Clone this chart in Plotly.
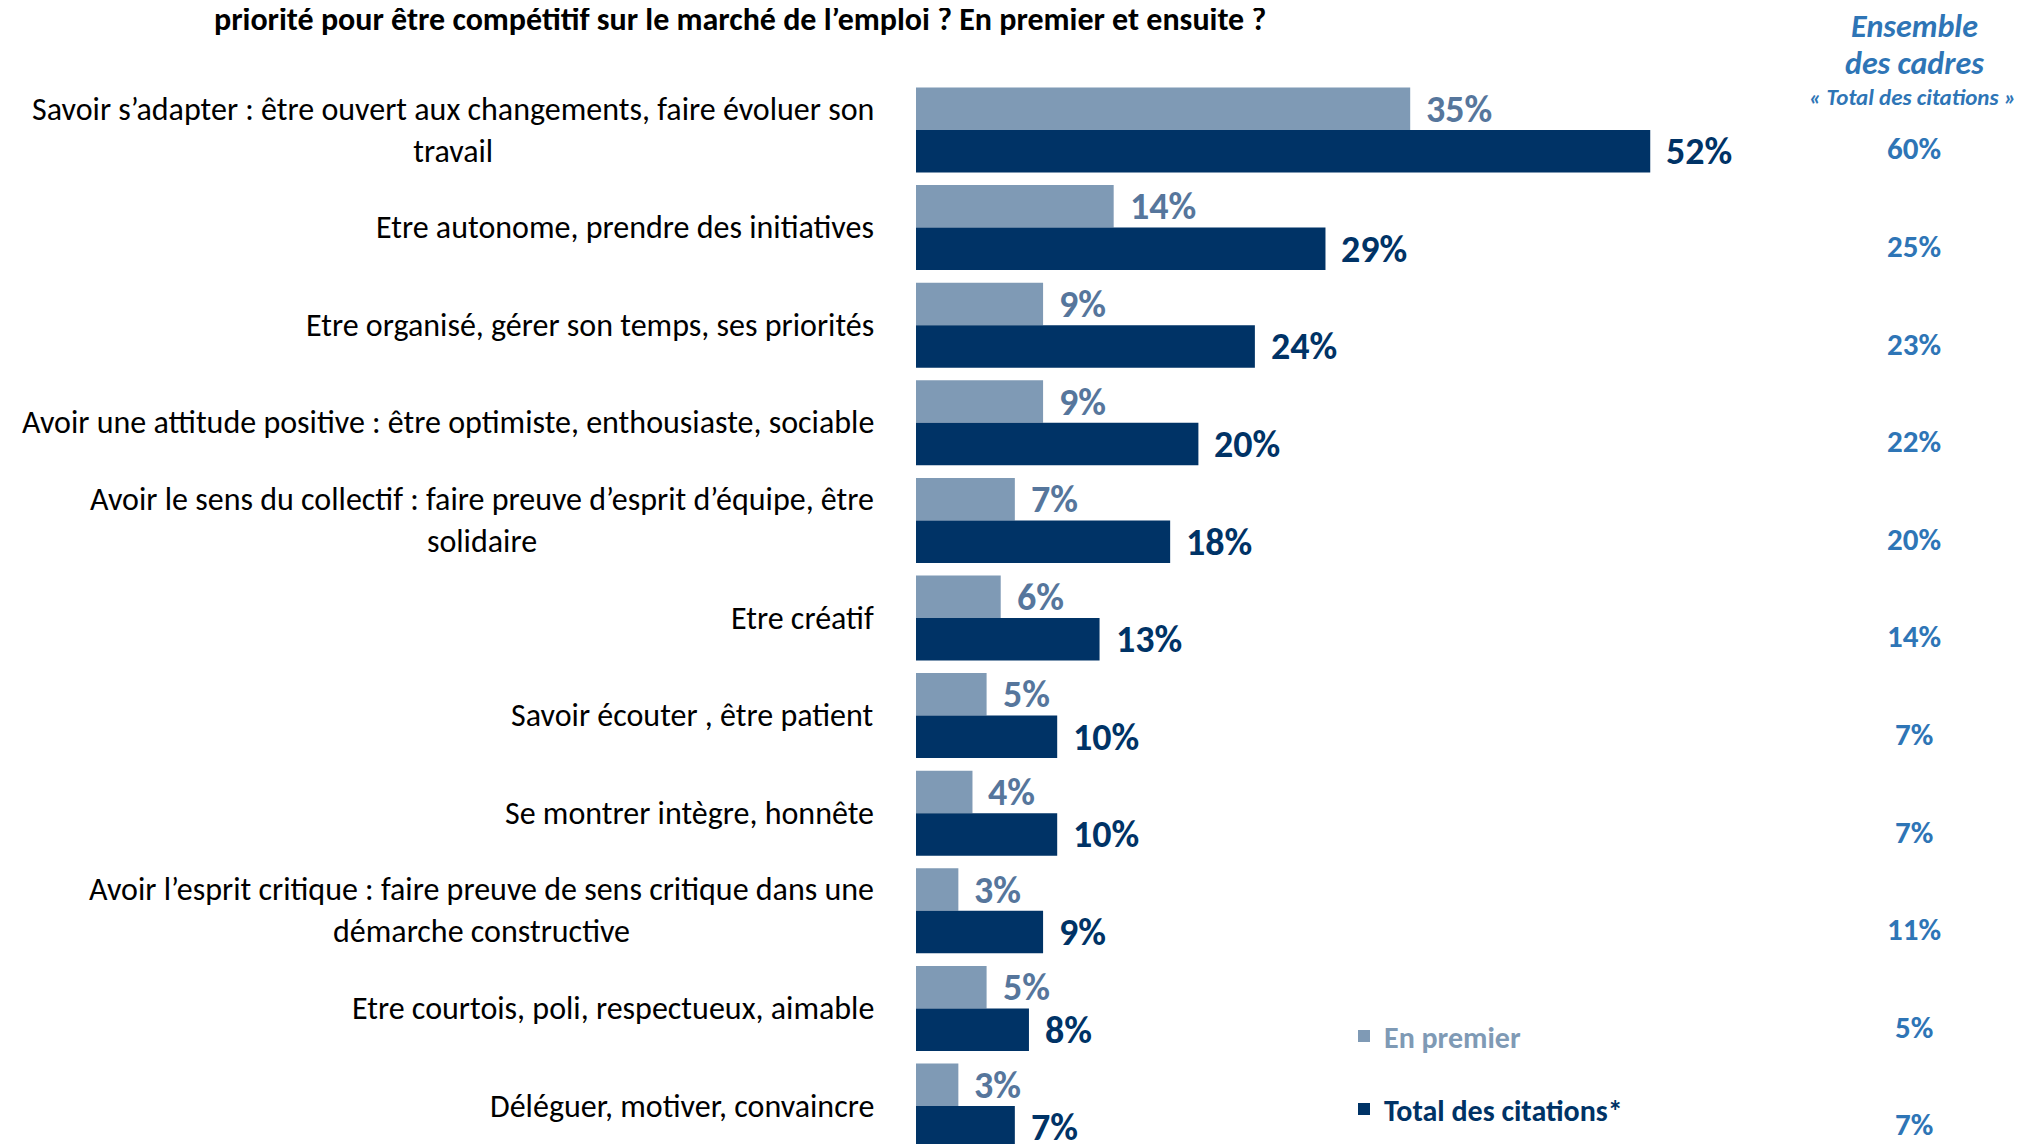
import plotly.graph_objects as go

categories = [
    "Savoir s’adapter : être ouvert aux changements, faire évoluer son<br>travail",
    "Etre autonome, prendre des initiatives",
    "Etre organisé, gérer son temps, ses priorités",
    "Avoir une attitude positive : être optimiste, enthousiaste, sociable",
    "Avoir le sens du collectif : faire preuve d’esprit d’équipe, être<br>solidaire",
    "Etre créatif",
    "Savoir écouter , être patient",
    "Se montrer intègre, honnête",
    "Avoir l’esprit critique : faire preuve de sens critique dans une<br>démarche constructive",
    "Etre courtois, poli, respectueux, aimable",
    "Déléguer, motiver, convaincre",
]
en_premier = [35, 14, 9, 9, 7, 6, 5, 4, 3, 5, 3]
total_citations = [52, 29, 24, 20, 18, 13, 10, 10, 9, 8, 7]
ensemble_cadres = [60, 25, 23, 22, 20, 14, 7, 7, 11, 5, 7]

title_text = "priorité pour être compétitif sur le marché de l’emploi ? En premier et ensuite ?"
ensemble_header_1 = "Ensemble"
ensemble_header_2 = "des cadres"
ensemble_sub = "« Total des citations »"
series_names = ["En premier", "Total des citations*"]

FONT = "Carlito, Lato, sans-serif"
LIGHT = "#7F9AB5"
LIGHT_TXT = "#56769C"
DARK = "#003366"
BLUE = "#2E75B6"

OFF = 8  # page body margin
W, H = 2024 - OFF, 1144 - OFF
ML = 916 - OFF
PX_PER_PCT = 14.12
plot_w = W - ML
x_max = plot_w / PX_PER_PCT

pitch = 97.6
first_center = 130.0 - OFF
y_top = -first_center / pitch
y_bot = (H - first_center) / pitch
group_w = 85.0 / pitch
bar_w = group_w / 2

pos = list(range(len(categories)))


def px_x(xf):
    return (xf - OFF - ML) / plot_w


def px_y(yf):
    return 1 - (yf - OFF) / H


fig = go.Figure()
fig.add_trace(go.Bar(
    y=pos, x=en_premier, orientation="h",
    name=f"<span style='color:{LIGHT}'><b>{series_names[0]}</b></span>",
    marker=dict(color=LIGHT, line=dict(width=0)), legendgroup="a",
    hoverinfo="skip",
))
fig.add_trace(go.Bar(
    y=pos, x=total_citations, orientation="h",
    name=f"<span style='color:{DARK}'><b>{series_names[1]}</b></span>",
    marker=dict(color=DARK, line=dict(width=0)), legendgroup="b",
    hoverinfo="skip",
))

annotations = []
for i, (cat, p, t, e) in enumerate(zip(categories, en_premier, total_citations, ensemble_cadres)):
    annotations.append(dict(
        x=0, y=i, xref="x", yref="y", text=cat, showarrow=False,
        xanchor="right", yanchor="middle", align="center", xshift=-40,
        font=dict(family=FONT, size=32, color="#000000"),
    ))
    annotations.append(dict(
        x=p, y=i - bar_w / 2, xref="x", yref="y", text=f"<b>{p}%</b>", showarrow=False,
        xanchor="left", yanchor="middle", xshift=14,
        font=dict(family=FONT, size=38, color=LIGHT_TXT),
    ))
    annotations.append(dict(
        x=t, y=i + bar_w / 2, xref="x", yref="y", text=f"<b>{t}%</b>", showarrow=False,
        xanchor="left", yanchor="middle", xshift=14,
        font=dict(family=FONT, size=38, color=DARK),
    ))
    annotations.append(dict(
        x=px_x(1914), y=i + bar_w / 2 - 0.03, xref="paper", yref="y",
        text=f"<b>{e}%</b>", showarrow=False, xanchor="center", yanchor="middle",
        font=dict(family=FONT, size=31, color=BLUE),
    ))

annotations.append(dict(
    x=px_x(740), y=px_y(20), xref="paper", yref="paper",
    text=f"<b>{title_text}</b>", showarrow=False, xanchor="center", yanchor="middle",
    font=dict(family=FONT, size=32, color="#000000"),
))
annotations.append(dict(
    x=px_x(1914), y=px_y(27), xref="paper", yref="paper",
    text=f"<b><i>{ensemble_header_1}</i></b>", showarrow=False, xanchor="center", yanchor="middle",
    font=dict(family=FONT, size=32, color=BLUE),
))
annotations.append(dict(
    x=px_x(1914), y=px_y(63), xref="paper", yref="paper",
    text=f"<b><i>{ensemble_header_2}</i></b>", showarrow=False, xanchor="center", yanchor="middle",
    font=dict(family=FONT, size=32, color=BLUE),
))
annotations.append(dict(
    x=px_x(1912), y=px_y(97), xref="paper", yref="paper",
    text=f"<b><i>{ensemble_sub}</i></b>", showarrow=False, xanchor="center", yanchor="middle",
    font=dict(family=FONT, size=23, color=BLUE),
))

fig.update_layout(
    width=W, height=H,
    margin=dict(l=ML, r=0, t=0, b=0, pad=0),
    paper_bgcolor="white", plot_bgcolor="white",
    barmode="group", bargap=1 - group_w, bargroupgap=0,
    xaxis=dict(range=[0, x_max], visible=False, fixedrange=True),
    yaxis=dict(range=[y_bot, y_top], visible=False, fixedrange=True),
    showlegend=True,
    legend=dict(
        x=px_x(1344), y=px_y(1010), xanchor="left", yanchor="top",
        bgcolor="rgba(0,0,0,0)", traceorder="grouped", tracegroupgap=31,
        font=dict(family=FONT, size=30),
        itemclick=False, itemdoubleclick=False,
    ),
    annotations=annotations,
    font=dict(family=FONT),
)

fig.write_html("out.html")
